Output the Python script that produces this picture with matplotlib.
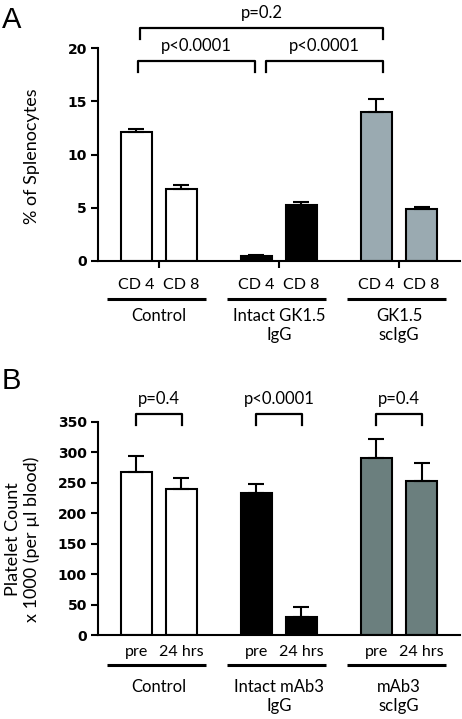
import matplotlib
matplotlib.use("Agg")
import matplotlib.pyplot as plt

# panel A: % of splenocytes
groups_a = ["Control", "Intact GK1.5\nIgG", "GK1.5\nscIgG"]
subs_a = ["CD 4", "CD 8"]
vals_a = [[12.1, 6.75], [0.5, 5.3], [14.0, 4.85]]
errs_a = [[0.25, 0.4], [0.05, 0.25], [1.2, 0.2]]
colors_a = ["white", "black", "#9aaab1"]
# (x1, x2, y, label) brackets for p values
brackets_a = [(-0.175, 0.80, 18.8, "p<0.0001"),
              (0.89, 1.87, 18.8, "p<0.0001"),
              (-0.16, 1.87, 21.9, "p=0.2")]

# panel B: platelet count
groups_b = ["Control", "Intact mAb3\nIgG", "mAb3\nscIgG"]
subs_b = ["pre", "24 hrs"]
vals_b = [[267, 239], [233, 30], [290, 253]]
errs_b = [[27, 18], [14, 16], [31, 30]]
colors_b = ["white", "black", "#6b7f7e"]
brackets_b = [(-0.19, 0.19, 362, "p=0.4"),
              (0.81, 1.19, 362, "p<0.0001"),
              (1.81, 2.19, 362, "p=0.4")]

LAB = "Lato"
off = 0.1875
w = 0.26

fig = plt.figure(figsize=(4.62, 7.19), dpi=100)


def panel(ax, groups, subs, vals, errs, colors, ymax, step, brackets,
          ylabel, unit, ytext, show_gticks):
    for i, g in enumerate(groups):
        xs = [i - off, i + off]
        ax.bar(xs, vals[i], width=w, color=colors[i], edgecolor="black",
               linewidth=1.5, zorder=2)
        ax.errorbar(xs, vals[i], yerr=[[0, 0], errs[i]], fmt="none",
                    ecolor="black", elinewidth=1.5, capsize=6, capthick=1.5,
                    zorder=3)
        for x, s in zip(xs, subs):
            ax.text(x, ytext[0], s, ha="center", va="center", fontsize=11.5,
                    family=LAB, clip_on=False)
        ax.plot([i - 0.43, i + 0.39], [ytext[1]] * 2, color="black", lw=2.2,
                clip_on=False, solid_capstyle="butt")
        ax.text(i, ytext[2], g, ha="center", va="top", fontsize=12,
                family=LAB, linespacing=1.25, clip_on=False)

    for x1, x2, y, lab in brackets:
        leg = unit * 11
        ax.plot([x1, x1, x2, x2], [y - leg, y, y, y - leg], color="black",
                lw=1.6, clip_on=False)
        ax.text((x1 + x2) / 2, y + unit * 15, lab, ha="center",
                va="center", fontsize=12, family=LAB, clip_on=False)

    ax.set_xlim(-0.508, 2.508)
    ax.set_ylim(0, ymax)
    ax.set_yticks(range(0, ymax + 1, step))
    for t in ax.get_yticklabels():
        t.set_fontweight("bold")
        t.set_family("DejaVu Sans")
        t.set_fontsize(10)
    ax.set_xticks([0, 1, 2] if show_gticks else [])
    ax.set_xticklabels([])
    ax.tick_params(direction="out", length=5, width=1.5, pad=3)
    for s in ["top", "right"]:
        ax.spines[s].set_visible(False)
    for s in ["left", "bottom"]:
        ax.spines[s].set_linewidth(1.5)
    ax.set_ylabel(ylabel, fontsize=13, family=LAB, linespacing=1.15)
    ax.patch.set_alpha(0)


ax1 = fig.add_axes([0.2121, 0.6370, 0.7835, 0.2962])
panel(ax1, groups_a, subs_a, vals_a, errs_a, colors_a, 20, 5, brackets_a,
      "% of Splenocytes", 20 / 213, (-2.25, -3.57, -4.4), True)
ax1.yaxis.set_label_coords(-0.16, 0.49)

ax2 = fig.add_axes([0.2121, 0.1168, 0.7835, 0.2967])
panel(ax2, groups_b, subs_b, vals_b, errs_b, colors_b, 350, 50, brackets_b,
      "Platelet Count\nx 1000 (per µl blood)", 350 / 213.3,
      (-27.4, -49.2, -72), False)
ax2.yaxis.set_label_coords(-0.16, 0.45)

fig.text(0.004, 0.992, "A", fontsize=21, family="Liberation Sans", va="top")
fig.text(0.004, 0.489, "B", fontsize=21, family="Liberation Sans", va="top")

fig.savefig("out.png", dpi=100)
